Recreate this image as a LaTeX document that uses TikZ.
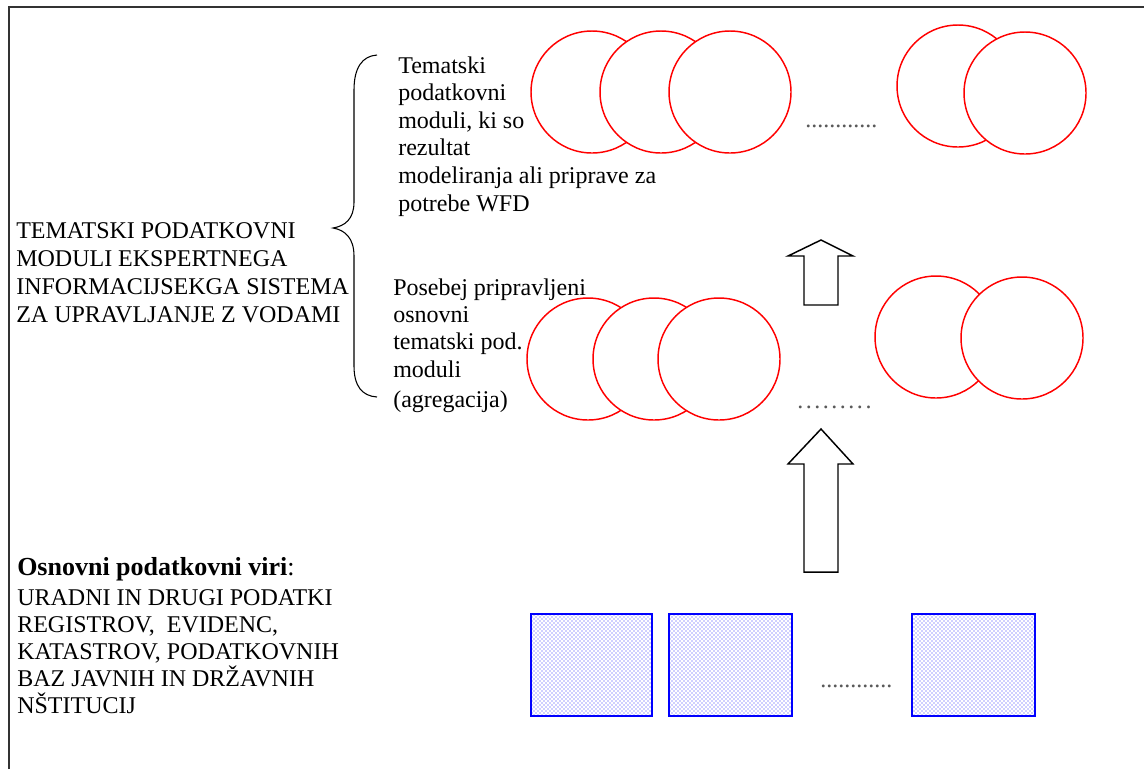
\documentclass[tikz,border=0pt]{standalone}
\usepackage{fontspec}
\setmainfont{Liberation Serif}
\usetikzlibrary{patterns}
\begin{document}
\begin{tikzpicture}[x=0.75pt,y=-0.75pt,
  frame/.style={line width=1.8pt, draw=black!80},
  module/.style={circle, draw=red, line width=1.1pt, fill=white, minimum size=91.5pt, inner sep=0pt},
  source/.style={rectangle, draw=blue, line width=1.2pt, pattern=crosshatch dots, pattern color=blue!80, minimum width=90.75pt, minimum height=76.5pt, inner sep=0pt},
  blockarrow/.style={draw=black, line width=1.1pt, fill=white, line join=miter},
  brace/.style={draw=black, line width=0.8pt},
  lbl/.style={anchor=base west, inner sep=0pt, align=left},
  dotrow/.style={anchor=base west, inner sep=0pt, text=black!65, font=\fontsize{18}{21}\selectfont},
]
\useasboundingbox (0,0) rectangle (1144,769);
\fill[white] (0,0) rectangle (1144,769);
% frame
\draw[frame] (9,769) -- (9,7) -- (1144,7);
% top row of thematic modules
\node[module] (t1) at (592,92) {};
\node[module] (t2) at (661,92) {};
\node[module] (t3) at (730,92) {};
\node[module] (t4) at (958,86) {};
\node[module] (t5) at (1025,93) {};
% second row
\node[module] (b1) at (588,359) {};
\node[module] (b2) at (654,359) {};
\node[module] (b3) at (719,359) {};
\node[module] (b4) at (936,337) {};
\node[module] (b5) at (1022,338) {};
% sources
\node[source, minimum width=90.75pt] (s1) at (591.5,665) {};
\node[source, minimum width=92.25pt] (s2) at (730.5,665) {};
\node[source, minimum width=92.25pt] (s3) at (973.5,665) {};
% block arrows
\draw[blockarrow] (804,305) -- (804,256) -- (788,256) -- (821,240) -- (853,256) -- (838,256) -- (838,305) -- cycle;
\draw[blockarrow] (804,572) -- (804,464) -- (788,464) -- (821,429) -- (853,464) -- (838,464) -- (838,572) -- cycle;
% brace
\draw[brace] (377,55) .. controls (362,56) and (354,68) .. (354,90) -- (354,202)
  .. controls (354,219) and (345,226) .. (333,228)
  .. controls (345,230) and (354,238) .. (354,256) -- (354,366)
  .. controls (354,386) and (362,396) .. (377,397);
% texts (anchored at the baseline of their last line)
\node[lbl, font=\fontsize{18}{21}\selectfont] (lefttitle) at (16,322) {TEMATSKI PODATKOVNI\\MODULI EKSPERTNEGA\\INFORMACIJSEKGA SISTEMA\\ZA UPRAVLJANJE Z VODAMI};
\node[lbl, font=\fontsize{18}{20.7}\selectfont] (toptext) at (398,211) {Tematski\\podatkovni\\moduli, ki so\\rezultat\\modeliranja ali priprave za\\potrebe WFD};
\node[lbl, font=\fontsize{18}{20.5}\selectfont] (midtext) at (393,407) {Posebej pripravljeni\\osnovni\\tematski pod.\\moduli\\[2pt](agregacija)};
\node[anchor=base west, inner sep=0pt, font=\fontsize{19.5}{22}\selectfont] (srctitle) at (17,575) {\textbf{Osnovni podatkovni viri}:};
\node[lbl, font=\fontsize{18}{20.25}\selectfont] (srctext) at (17,713) {URADNI IN DRUGI PODATKI\\REGISTROV,\ \ EVIDENC,\\KATASTROV, PODATKOVNIH\\BAZ JAVNIH IN DRŽAVNIH\\NŠTITUCIJ};
% dots
\node[dotrow] (d1) at (805,127) {............};
\node[dotrow] (d2) at (797,408) {.\kern1.9pt.\kern1.9pt.\kern1.9pt.\kern1.9pt.\kern1.9pt.\kern1.9pt.\kern1.9pt.\kern1.9pt.};
\node[dotrow] (d3) at (820,687) {............};
\end{tikzpicture}
\end{document}
